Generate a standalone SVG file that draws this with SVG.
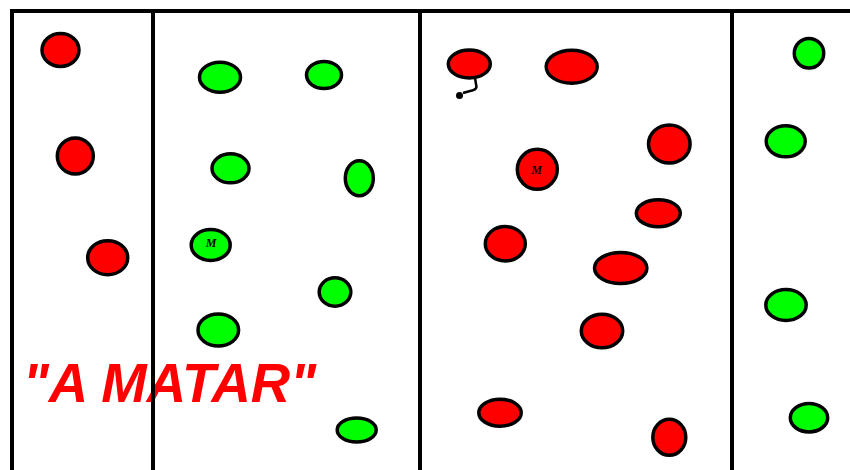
<svg xmlns="http://www.w3.org/2000/svg" width="850" height="470" viewBox="0 0 850 470">
<style>
.r{fill:#ff0000;stroke:#000;stroke-width:3.5}
.g{fill:#00ff00;stroke:#000;stroke-width:3.5}
.ln{stroke:#000;stroke-width:4;fill:none}
.m{font-family:"Liberation Serif",serif;font-style:italic;font-weight:bold;font-size:12px;fill:#000}
.t{font-family:"Liberation Sans",Arial,sans-serif;font-style:italic;font-weight:bold;font-size:56px;fill:#ff0000}
</style>
<rect width="850" height="470" fill="#fff"/>
<g id="label">
<text class="t" x="23" y="402" textLength="293" lengthAdjust="spacingAndGlyphs">"A MATAR"</text>
</g>
<g id="frame">
<line class="ln" x1="10" y1="11" x2="850" y2="11"/>
<line class="ln" x1="12" y1="11" x2="12" y2="470"/>
<line class="ln" x1="153" y1="11" x2="153" y2="470"/>
<line class="ln" x1="420" y1="11" x2="420" y2="470"/>
<line class="ln" x1="732" y1="11" x2="732" y2="470"/>
</g>
<g id="zone1">
<ellipse class="r" cx="60.5" cy="50" rx="18.5" ry="16.5"/>
<ellipse class="r" cx="75.3" cy="156" rx="18" ry="18"/>
<ellipse class="r" cx="107.7" cy="257.7" rx="20" ry="17"/>
</g>
<g id="zone2">
<ellipse class="g" cx="220" cy="77.3" rx="20.5" ry="15"/>
<ellipse class="g" cx="324" cy="75" rx="17.5" ry="13.5"/>
<ellipse class="g" cx="230.5" cy="168.3" rx="18.5" ry="14.5"/>
<ellipse class="g" cx="359.3" cy="178.3" rx="14" ry="17.5"/>
<g id="m-green">
<ellipse class="g" cx="210.7" cy="245" rx="19.5" ry="15.5"/>
<text class="m" x="211" y="246.5" text-anchor="middle">M</text>
</g>
<ellipse class="g" cx="335" cy="292" rx="15.8" ry="14.2"/>
<ellipse class="g" cx="218.3" cy="330" rx="20.3" ry="16"/>
<ellipse class="g" cx="356.7" cy="430" rx="19.5" ry="12"/>
</g>
<g id="zone3">
<g id="tagged">
<ellipse class="r" cx="469.3" cy="64" rx="21" ry="14"/>
<path d="M475,78 L476.5,87 Q476,90 470,91 L463,93" fill="none" stroke="#000" stroke-width="2.5"/>
<circle cx="459.5" cy="95.5" r="3.5" fill="#000"/>
</g>
<ellipse class="r" cx="571.7" cy="66.7" rx="25.5" ry="16.5"/>
<ellipse class="r" cx="669.3" cy="144" rx="20.8" ry="19"/>
<g id="m-red">
<ellipse class="r" cx="537.3" cy="169.3" rx="20" ry="20"/>
<text class="m" x="536.5" y="173.5" text-anchor="middle">M</text>
</g>
<ellipse class="r" cx="658.3" cy="213.3" rx="22" ry="13.5"/>
<ellipse class="r" cx="505.3" cy="243.7" rx="20" ry="17.2"/>
<ellipse class="r" cx="620.7" cy="268" rx="26.2" ry="15.5"/>
<ellipse class="r" cx="602" cy="331" rx="20.7" ry="16.7"/>
<ellipse class="r" cx="500" cy="412.7" rx="21.2" ry="13.5"/>
<ellipse class="r" cx="669.3" cy="437.3" rx="16.5" ry="18"/>
</g>
<g id="zone4">
<ellipse class="g" cx="809" cy="53.3" rx="14.7" ry="14.8"/>
<ellipse class="g" cx="785.7" cy="141.3" rx="19.5" ry="15.5"/>
<ellipse class="g" cx="786" cy="305" rx="20.2" ry="15.5"/>
<ellipse class="g" cx="809" cy="417.7" rx="18.7" ry="14.2"/>
</g>
</svg>
